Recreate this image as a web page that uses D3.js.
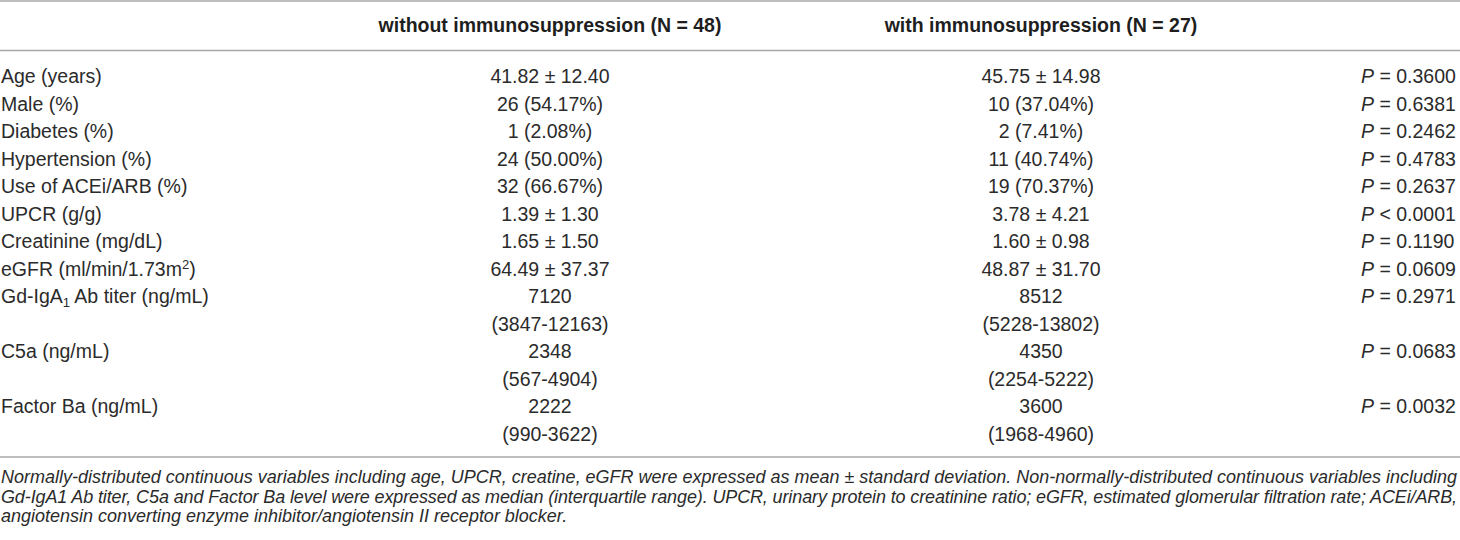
<!DOCTYPE html>
<html>
<head>
<meta charset="utf-8">
<script src="https://cdn.jsdelivr.net/npm/d3@7"></script>
<style>
  body { margin: 0; background: white; }
  svg { display: block; }
</style>
</head>
<body>
<div id="table"></div>
<script>
// Table data
const headers = ["without immunosuppression (N = 48)", "with immunosuppression (N = 27)"];

const variables = [
  "Age (years)", "Male (%)", "Diabetes (%)", "Hypertension (%)", "Use of ACEi/ARB (%)",
  "UPCR (g/g)", "Creatinine (mg/dL)", "eGFR (ml/min/1.73m^2)", "Gd-IgA_1 Ab titer (ng/mL)",
  "C5a (ng/mL)", "Factor Ba (ng/mL)"
];

const withoutIS = [
  ["41.82 ± 12.40"], ["26 (54.17%)"], ["1 (2.08%)"], ["24 (50.00%)"], ["32 (66.67%)"],
  ["1.39 ± 1.30"], ["1.65 ± 1.50"], ["64.49 ± 37.37"], ["7120", "(3847-12163)"],
  ["2348", "(567-4904)"], ["2222", "(990-3622)"]
];

const withIS = [
  ["45.75 ± 14.98"], ["10 (37.04%)"], ["2 (7.41%)"], ["11 (40.74%)"], ["19 (70.37%)"],
  ["3.78 ± 4.21"], ["1.60 ± 0.98"], ["48.87 ± 31.70"], ["8512", "(5228-13802)"],
  ["4350", "(2254-5222)"], ["3600", "(1968-4960)"]
];

const pValues = [
  "= 0.3600", "= 0.6381", "= 0.2462", "= 0.4783", "= 0.2637",
  "< 0.0001", "= 0.1190", "= 0.0609", "= 0.2971", "= 0.0683", "= 0.0032"
];

const footnote = [
  "Normally-distributed continuous variables including age, UPCR, creatine, eGFR were expressed as mean ± standard deviation. Non-normally-distributed continuous variables including",
  "Gd-IgA1 Ab titer, C5a and Factor Ba level were expressed as median (interquartile range). UPCR, urinary protein to creatinine ratio; eGFR, estimated glomerular filtration rate; ACEi/ARB,",
  "angiotensin converting enzyme inhibitor/angiotensin II receptor blocker."
];

// Dimensions
const width = 1460, height = 540;
const font = "'Liberation Sans', Arial, Helvetica, sans-serif";
const textColor = "#2b2b2b";
const ruleColor = "#a8a8a8";

const svg = d3.select('#table')
  .append('svg')
  .attr('width', width)
  .attr('height', height)
  .style('background', 'white')
  .style('font-family', font);

// Flatten rows into text lines (median rows take two lines)
const lines = [];
variables.forEach((v, i) => {
  const n = withoutIS[i].length;
  for (let k = 0; k < n; k++) {
    lines.push({
      label: k === 0 ? v : null,
      a: withoutIS[i][k],
      b: withIS[i][k],
      p: k === 0 ? pValues[i] : null
    });
  }
});

// Scales
const yScale = d3.scaleLinear()
  .domain([0, lines.length - 1])
  .range([83, 83 + (lines.length - 1) * 27.5]);

const xScale = d3.scaleOrdinal()
  .domain(["label", "a", "b", "p"])
  .range([1, 550, 1041, 1361]);

// Horizontal rules
[1, 50.5, 457].forEach(y => {
  svg.append('line')
    .attr('x1', 0).attr('x2', width)
    .attr('y1', y).attr('y2', y)
    .attr('stroke', ruleColor)
    .attr('stroke-width', 1.6);
});

// Column headers
svg.selectAll('.header')
  .data(headers)
  .join('text')
  .attr('class', 'header')
  .attr('x', (d, i) => xScale(i === 0 ? "a" : "b"))
  .attr('y', 32)
  .attr('text-anchor', 'middle')
  .attr('font-weight', 'bold')
  .attr('font-size', 19.5)
  .attr('fill', '#1e1e1e')
  .text(d => d);

// Labels with simple sub/superscript markup (_1, ^2)
function writeLabel(sel, str) {
  const parts = str.split(/(_\d|\^\d)/);
  let shift = 0;
  parts.forEach(part => {
    if (!part) return;
    if (part[0] === "_" || part[0] === "^") {
      const dy = part[0] === "_" ? 4 : -7;
      sel.append('tspan')
        .attr('dy', dy)
        .attr('font-size', 13)
        .text(part.slice(1));
      shift = -dy;
    } else {
      sel.append('tspan')
        .attr('dy', shift)
        .text(part);
      shift = 0;
    }
  });
}

const rows = svg.selectAll('.row')
  .data(lines)
  .join('g')
  .attr('class', 'row')
  .attr('transform', (d, i) => `translate(0,${yScale(i)})`)
  .attr('font-size', 19.5)
  .attr('fill', textColor);

rows.filter(d => d.label)
  .append('text')
  .attr('x', xScale("label"))
  .each(function(d) { writeLabel(d3.select(this), d.label); });

rows.append('text')
  .attr('x', xScale("a"))
  .attr('text-anchor', 'middle')
  .text(d => d.a);

rows.append('text')
  .attr('x', xScale("b"))
  .attr('text-anchor', 'middle')
  .text(d => d.b);

const pText = rows.filter(d => d.p)
  .append('text')
  .attr('x', xScale("p"));
pText.append('tspan').attr('font-style', 'italic').text('P');
pText.append('tspan').text(d => ' ' + d.p);

// Footnote, justified to full width
const noteWidth = 1457;
const note = svg.append('g')
  .attr('font-style', 'italic')
  .attr('fill', textColor);

const probe = note.append('text').attr('font-size', 20).text(footnote[0]);
const noteSize = 20 * noteWidth / probe.node().getComputedTextLength();
probe.remove();

note.selectAll('text')
  .data(footnote)
  .join('text')
  .attr('x', 1)
  .attr('y', (d, i) => 483 + i * 19.5)
  .attr('font-size', noteSize)
  .each(function(d, i) {
    if (i < footnote.length - 1) {
      d3.select(this)
        .attr('textLength', noteWidth - 1)
        .attr('lengthAdjust', 'spacing');
    }
  })
  .text(d => d);
</script>
</body>
</html>
